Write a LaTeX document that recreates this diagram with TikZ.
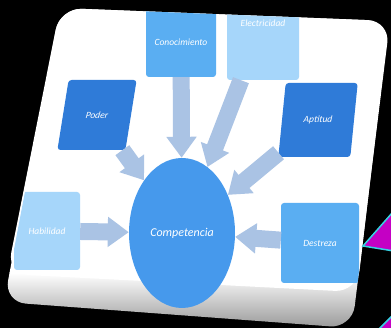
\documentclass[tikz,border=0pt]{standalone}
\usepackage{fontspec}
\setmainfont{Carlito}
\usetikzlibrary{arrows.meta,shapes.geometric}
\definecolor{deepblue}{HTML}{2F7BD8}
\definecolor{midblue}{HTML}{5AAEF2}
\definecolor{paleblue}{HTML}{A6D6FA}
\definecolor{ovalblue}{HTML}{4699EC}
\definecolor{shaftblue}{HTML}{AAC3E4}
\definecolor{trifill}{HTML}{C400C4}
\definecolor{triedge}{HTML}{35D2E2}
\tikzset{
  box/.style={fill=#1, rounded corners=3pt, text=white, inner sep=0pt,
    font=\itshape\fontsize{9.5}{11}\selectfont},
  blk/.style={line width=17pt, shaftblue, -{Triangle[length=21pt,width=29pt]}}
}

\begin{document}
\begin{tikzpicture}[x=1pt,y=1pt]
\useasboundingbox (0,0) rectangle (391,328);
\fill[black] (0,0) rectangle (391,328);
\clip (0,0) rectangle (391,328);
% panel
\begin{scope}
\clip[rounded corners=22pt] (60,320)--(390,307)--(352,0)--(4,26)--cycle;
\fill[white] (0,55) rectangle (391,328);
\shade[top color=white, bottom color=gray!80] (0,0) rectangle (391,55);
\end{scope}
\fill[white, rounded corners=22pt] (60,320)--(389,307)--(357,36)--(7,54)--cycle;
\begin{scope}
\clip[rounded corners=22pt] (60,320)--(390,307)--(352,0)--(4,26)--cycle;
\node[box=midblue, minimum width=70pt, minimum height=70pt] (cono) at (181,286) {Conocimiento};
\node[box=paleblue, minimum width=72pt, minimum height=114pt] (elec) at (263,305) {Electricidad};
\node[box=deepblue, xslant=0.16, minimum width=68pt, minimum height=70pt] (poder) at (97,213) {Poder};
\node[box=deepblue, xslant=0.1, minimum width=72pt, minimum height=74pt] (apt) at (318,208) {Aptitud};
\node[box=paleblue, minimum width=66pt, minimum height=78pt] (habil) at (47,97) {Habilidad};
\node[box=midblue, minimum width=78pt, minimum height=80pt] (destr) at (320,85) {Destreza};
\node[ellipse, fill=ovalblue, minimum width=106pt, minimum height=150pt, inner sep=0pt,
  text=white, font=\itshape\fontsize{12}{14}\selectfont] (comp) at (182,95) {Competencia};
\draw[blk] (cono) -- (comp);
\draw[blk] (elec) -- (comp);
\draw[blk] (poder) -- (comp);
\draw[blk] (apt) -- (comp);
\draw[blk] (habil) -- (comp);
\draw[blk] (destr) -- (comp);
\end{scope}
% pointer
\filldraw[fill=trifill, draw=triedge, line width=1.5pt] (400,124)--(363,82)--(400,76)--cycle;
\filldraw[fill=trifill, draw=triedge, line width=1.5pt] (378,-2)--(396,16)--(396,-2)--cycle;
\end{tikzpicture}
\end{document}
